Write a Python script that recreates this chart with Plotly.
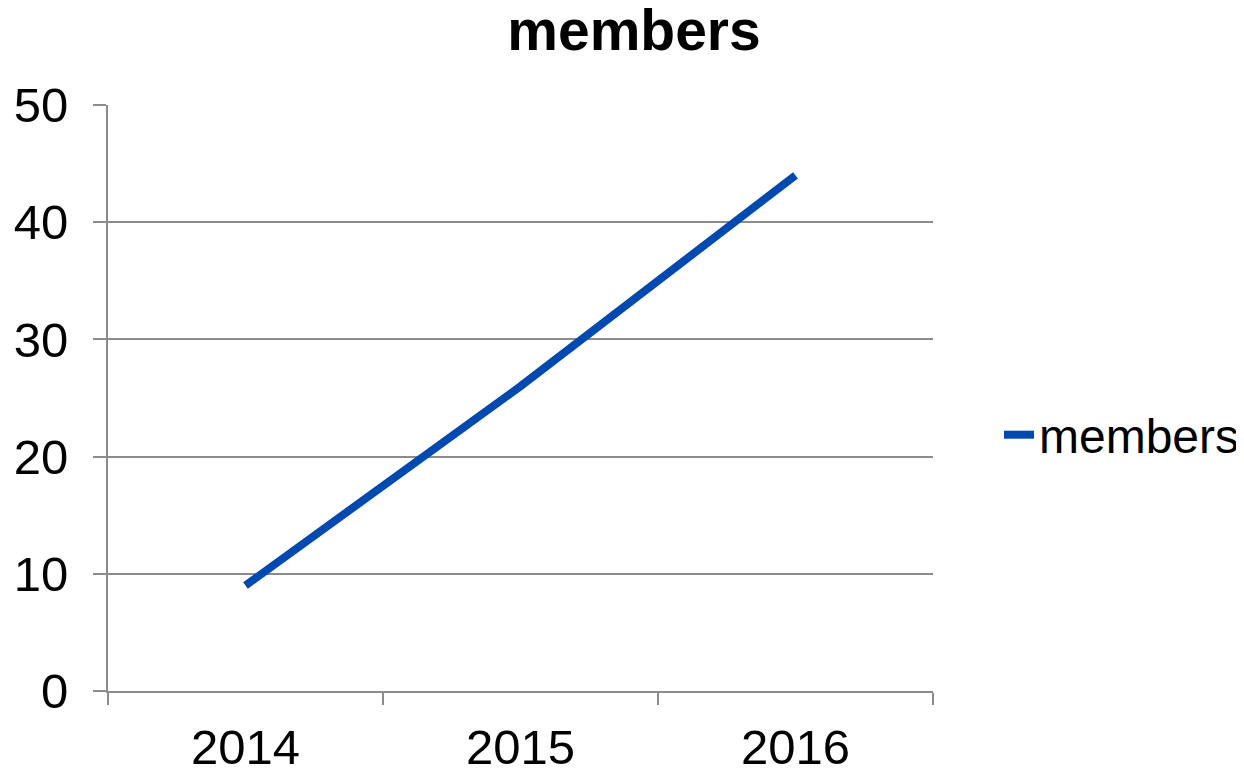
import plotly.graph_objects as go

years = ["2014", "2015", "2016"]
members = [9, 26, 44]

grey = "#8c8c8c"
font_family = "Liberation Sans, Arial, sans-serif"

# The page body adds an 8px offset, so the figure is 8px smaller than the window.
W, H = 1236, 766

fig = go.Figure()
fig.add_trace(go.Scatter(
    x=years, y=members, mode="lines", name="members",
    line=dict(color="#0049B0", width=8),
))

fig.update_layout(
    width=W, height=H,
    paper_bgcolor="white", plot_bgcolor="white",
    margin=dict(l=100, r=311, t=97, b=83, autoexpand=False),
    title=dict(text="<b>members</b>", x=626 / W, xanchor="center",
               y=1 - 22 / H, yanchor="middle", automargin=False,
               font=dict(family=font_family, size=57, color="black")),
    font=dict(family=font_family, size=49, color="black"),
    showlegend=True,
    legend=dict(x=1.08, xanchor="left", y=(586 - 435 + 105) / 586, yanchor="middle",
                font=dict(size=48, color="black"), bgcolor="rgba(0,0,0,0)"),
    xaxis=dict(type="category", tickson="boundaries", ticks="outside", ticklen=12,
               tickcolor=grey, tickwidth=2, showline=True, linecolor=grey, linewidth=2,
               showgrid=False, range=[-0.5, 2.5], ticklabelstandoff=12, automargin=False,
               tickfont=dict(size=49, color="black")),
    yaxis=dict(range=[0, 50], dtick=10, ticks="outside", ticklen=13, tickcolor=grey,
               tickwidth=2, showline=True, linecolor=grey, linewidth=2,
               showgrid=True, gridcolor=grey, gridwidth=2, zeroline=False,
               ticklabelstandoff=15, automargin=False,
               tickfont=dict(size=49, color="black")),
)

fig.write_html("out.html")
